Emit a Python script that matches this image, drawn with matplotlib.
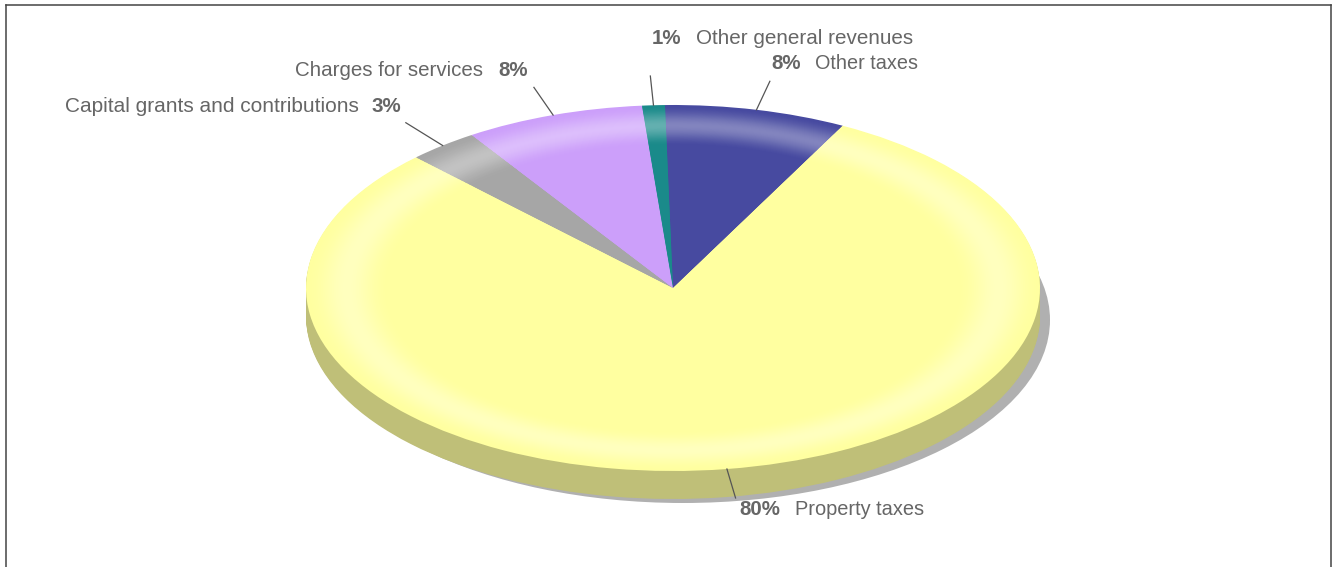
"""
Revenue share pie, drawn as a tilted disc with a side wall and a shadow
"""
import numpy as np
import matplotlib
matplotlib.use('Agg')
import matplotlib.pyplot as plt
from matplotlib.colors import to_rgb
from matplotlib.lines import Line2D
from matplotlib.patches import Ellipse

names = ['Other taxes', 'Property taxes', 'Capital grants and contributions',
         'Charges for services', 'Other general revenues']
values = [8.0, 80.0, 3.1, 7.9, 1.0]
colors = ['#474AA0', '#FFFFA0', '#A6A6A6', '#CC9FFA', '#1A8A8A']

W, H = 1336, 567
CX, CY, RX, RY = 673, 288, 367, 183
DEPTH = 28
START = 91.25

plt.rcParams['font.family'] = ['Liberation Sans', 'DejaVu Sans']

fig = plt.figure(figsize=(W / 100, H / 100), dpi=100)
ax = fig.add_axes([0, 0, 1, 1])


def blend(color, amount, target=(1, 1, 1)):
    rgb = np.array(to_rgb(color))
    return tuple(rgb + (np.array(target) - rgb) * amount)


# shadow behind everything
ax.add_patch(Ellipse((10 / RX, -32 / RY), 2, 2, color='#B0B0B0', lw=0))

# side wall: the same pie stacked downwards
wall = [blend(c, 0.25, (0, 0, 0)) for c in colors]
for step in range(DEPTH, 0, -1):
    ax.pie(values, colors=wall, radius=1, center=(0, -step / RY),
           startangle=START, counterclock=False, wedgeprops={'lw': 0})

# top face with the light band near the rim, eased so it has no hard inner edge
for r in np.arange(1.0, 0.77, -0.005):
    if r > 0.89:
        t = (1.0 - r) / 0.11
    else:
        t = max((r - 0.78) / 0.11, 0)
    amount = 0.32 * t * t * (3 - 2 * t)
    shades = [blend(c, amount) for c in colors]
    ax.pie(values, colors=shades, radius=r, startangle=START,
           counterclock=False, wedgeprops={'lw': 0})

# leader lines run outwards from the middle of each slice
edges = np.cumsum([0] + values) / sum(values) * 360 - (START - 90)
mids = (edges[:-1] + edges[1:]) / 2
for mid in np.radians(mids):
    ax.plot([np.sin(mid), 1.16 * np.sin(mid)], [np.cos(mid), 1.16 * np.cos(mid)],
            color='#555555', lw=0.9)

ax.set_aspect('auto')
ax.set_xlim(-CX / RX, (W - CX) / RX)
ax.set_ylim((CY - H) / RY, CY / RY)

# label rows: text start in pixels, name first or percent first
label_pos = [(771, 69), (739, 515), (65, 112), (295, 76), (652, 44)]
name_first = [False, False, True, True, False]
label_gap = [44, 56, 306, 203, 44]
name_size = [14.3, 14.4, 15, 14.8, 14.9]
for name, value, pos, first, gap, size in zip(names, values, label_pos, name_first,
                                              label_gap, name_size):
    x, y = pos
    pct = f'{value / sum(values) * 100:.0f}%'
    if first:
        fig.text(x / W, 1 - y / H, name, fontsize=size, color='#666666')
        fig.text((x + gap) / W, 1 - y / H, pct, fontsize=14.8,
                 fontweight='bold', color='#666666')
    else:
        fig.text(x / W, 1 - y / H, pct, fontsize=14.8,
                 fontweight='bold', color='#666666')
        fig.text((x + gap) / W, 1 - y / H, name, fontsize=size, color='#666666')

# outer frame, open at the bottom
for xs, ys in [((5.5, 5.5), (0, H - 4.5)), ((5.5, 1330.5), (H - 4.5, H - 4.5)),
               ((1330.5, 1330.5), (0, H - 4.5))]:
    fig.add_artist(Line2D([x / W for x in xs], [y / H for y in ys],
                          color='#444444', lw=1.1))

fig.savefig('out.png', dpi=100)
